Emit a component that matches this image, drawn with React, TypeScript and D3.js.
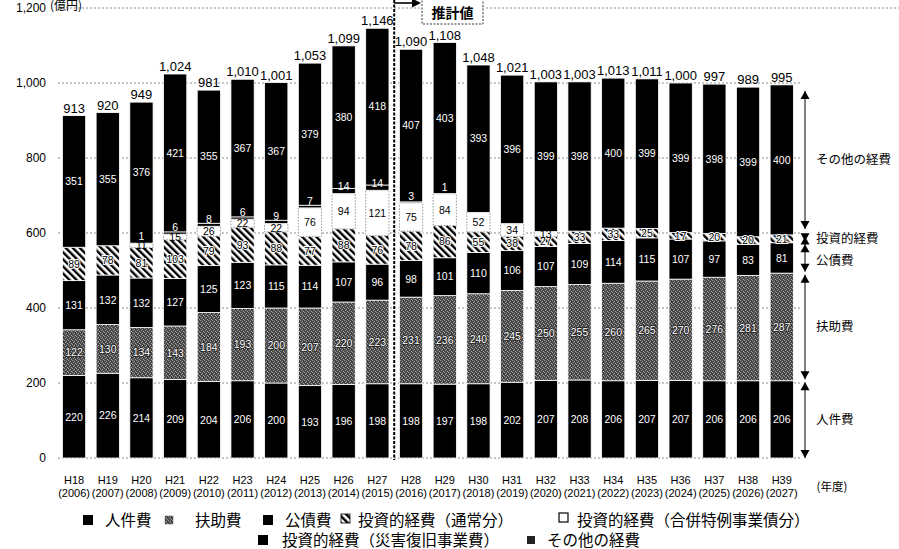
import React from "react";
import * as d3 from "d3";

const years = ["H18","H19","H20","H21","H22","H23","H24","H25","H26","H27","H28","H29","H30","H31","H32","H33","H34","H35","H36","H37","H38","H39"];
const westernYears = ["2006","2007","2008","2009","2010","2011","2012","2013","2014","2015","2016","2017","2018","2019","2020","2021","2022","2023","2024","2025","2026","2027"];
const personnel = [220,226,214,209,204,206,200,193,196,198,198,197,198,202,207,208,206,207,207,206,206,206];
const assistance = [122,130,134,143,184,193,200,207,220,223,231,236,240,245,250,255,260,265,270,276,281,287];
const debt = [131,132,132,127,125,123,115,114,107,96,98,101,110,106,107,109,114,115,107,97,83,81];
const investNormal = [89,78,81,103,79,93,88,77,88,76,78,86,55,38,27,33,33,25,17,20,20,21];
const investMerger = [0,0,11,15,26,22,22,76,94,121,75,84,52,34,13,0,0,0,0,0,0,0];
const investDisaster = [0,0,1,6,8,6,9,7,14,14,3,1,0,0,0,0,0,0,0,0,0,0];
const other = [351,355,376,421,355,367,367,379,380,418,407,403,393,396,399,398,400,399,399,398,399,400];
const totals = [913,920,949,1024,981,1010,1001,1053,1099,1146,1090,1108,1048,1021,1003,1003,1013,1011,1000,997,989,995];
const yTicks = [0,200,400,600,800,1000,1200];

const keys = ["personnel","assistance","debt","investNormal","investMerger","investDisaster","other"];
const legendRow1 = ["人件費","扶助費","公債費","投資的経費（通常分）","投資的経費（合併特例事業債分）"];
const legendRow2 = ["投資的経費（災害復旧事業費）","その他の経費"];
const sideLabels = ["人件費","扶助費","公債費","投資的経費","その他の経費"];

const W = 899, H = 549;
const NUM_FONT = "'Liberation Sans', Arial, sans-serif";
const JP_FONT = "'Noto Sans CJK JP', 'Noto Sans', sans-serif";

const rows = years.map((y, i) => ({
  year: y,
  personnel: personnel[i],
  assistance: assistance[i],
  debt: debt[i],
  investNormal: investNormal[i],
  investMerger: investMerger[i],
  investDisaster: investDisaster[i],
  other: other[i],
}));

const fills: Record<string, string> = {
  personnel: "#000",
  assistance: "url(#stipple)",
  debt: "#000",
  investNormal: "url(#hatch)",
  investMerger: "#fff",
  investDisaster: "#000",
  other: "#000",
};

export default function App() {
  const x = d3.scaleBand<string>().domain(years).range([57.2, 798.6]).paddingInner(0.31).paddingOuter(0.155);
  const y = d3.scaleLinear().domain([0, 1200]).range([458, 8]);
  const series = d3.stack<any>().keys(keys)(rows as any);
  const bw = x.bandwidth();

  const splitX = ((x("H27") as number) + bw + (x("H28") as number)) / 2;

  const last = series.map((s) => s[s.length - 1]);
  const annRanges = [
    [last[0][0], last[0][1]],
    [last[1][0], last[1][1]],
    [last[2][0], last[2][1]],
    [last[3][0], last[5][1]],
    [last[6][0], last[6][1]],
  ];
  const annX = 805;

  const arrowHead = (xc: number, yTip: number, dir: number) => {
    const h = 8, w = 4.5;
    return `M${xc},${yTip} L${xc - w},${yTip - dir * h} L${xc + w},${yTip - dir * h} Z`;
  };

  return (
    <svg width={W} height={H} style={{ position: "absolute", left: 0, top: 0, background: "#fff" }}>
      <defs>
        <pattern id="stipple" patternUnits="userSpaceOnUse" width="4" height="4">
          <rect width="4" height="4" fill="#4a4a4a" />
          <rect x="0" y="0" width="1" height="1" fill="#9a9a9a" />
          <rect x="2" y="1" width="1" height="1" fill="#b0b0b0" />
          <rect x="1" y="2" width="1" height="1" fill="#8a8a8a" />
          <rect x="3" y="3" width="1" height="1" fill="#a5a5a5" />
          <rect x="3" y="1" width="1" height="1" fill="#2a2a2a" />
        </pattern>
        <pattern id="hatch" patternUnits="userSpaceOnUse" width="5" height="5" patternTransform="rotate(-45)">
          <rect width="5" height="5" fill="#fff" />
          <line x1="1.2" y1="0" x2="1.2" y2="5" stroke="#000" strokeWidth="2.4" />
        </pattern>
      </defs>

      {yTicks.map((t) => (
        <line key={"g" + t} x1={58} x2={t === 1200 ? 899 : 800} y1={y(t)} y2={y(t)}
          stroke="#8a8a8a" strokeWidth={1} strokeDasharray="2,2" />
      ))}
      {yTicks.map((t) => (
        <text key={"yt" + t} x={46} y={y(t)} dy="0.35em" textAnchor="end" fontFamily={NUM_FONT} fontSize={12} fill="#000">
          {d3.format(",")(t)}
        </text>
      ))}
      <text x={50} y={10} fontFamily={JP_FONT} fontSize={12} fill="#000">(億円)</text>

      {series.map((s, si) => (
        <g key={keys[si]}>
          {s.map((d, i) => {
            const v = d[1] - d[0];
            if (v <= 0) return null;
            const x0 = x(years[i]) as number;
            const top = y(d[1]);
            const h = y(d[0]) - y(d[1]);
            const key = keys[si];
            return (
              <rect key={i} x={x0} y={top} width={bw} height={h} fill={fills[key]}
                stroke={key === "investMerger" ? "#777" : "#fff"}
                strokeWidth={0.8}
                strokeDasharray={key === "investMerger" ? "1.5,1.5" : undefined} />
            );
          })}
        </g>
      ))}

      {series.map((s, si) => (
        <g key={"l" + keys[si]}>
          {s.map((d, i) => {
            const v = d[1] - d[0];
            if (v <= 0) return null;
            const key = keys[si];
            const cx = (x(years[i]) as number) + bw / 2;
            let cy = (y(d[0]) + y(d[1])) / 2;
            if (key === "investDisaster") cy = y(d[0]) - 7;
            const whiteText = key === "personnel" || key === "debt" || key === "other" || key === "investDisaster" || key === "assistance";
            const halo = key === "investNormal";
            return (
              <text key={i} x={cx} y={cy} dy="0.36em" textAnchor="middle" fontFamily={NUM_FONT}
                fontSize={10.5} fill={whiteText ? "#fff" : "#000"}
                stroke={halo ? "#fff" : key === "assistance" ? "#222" : "none"}
                strokeWidth={halo ? 2 : key === "assistance" ? 1.5 : 0}
                style={{ paintOrder: "stroke" } as any}>
                {v}
              </text>
            );
          })}
        </g>
      ))}

      {totals.map((t, i) => (
        <text key={"t" + i} x={(x(years[i]) as number) + bw / 2} y={y(t) - 3} textAnchor="middle"
          fontFamily={NUM_FONT} fontSize={13} fill="#000">
          {d3.format(",")(t)}
        </text>
      ))}

      {years.map((yr, i) => (
        <g key={"x" + yr}>
          <text x={(x(yr) as number) + bw / 2} y={480} dy="0.35em" textAnchor="middle" fontFamily={NUM_FONT} fontSize={11} fill="#000">{yr}</text>
          <text x={(x(yr) as number) + bw / 2} y={493.5} dy="0.35em" textAnchor="middle" fontFamily={NUM_FONT} fontSize={11} fill="#000">({westernYears[i]})</text>
        </g>
      ))}
      <text x={832} y={487} dy="0.35em" textAnchor="middle" fontFamily={JP_FONT} fontSize={11.5} fill="#000">(年度)</text>

      <line x1={splitX} x2={splitX} y1={0} y2={460} stroke="#000" strokeWidth={2} strokeDasharray="3,1.5" />
      <line x1={splitX} x2={414} y1={3} y2={3} stroke="#000" strokeWidth={1.6} />
      <path d={`M421,3 L412,-1.5 L412,7.5 Z`} fill="#000" />
      <rect x={422} y={-4} width={61} height={28} fill="#fff" stroke="#333" strokeWidth={1} strokeDasharray="2,1.5" />
      <text x={452.5} y={13} dy="0.35em" textAnchor="middle" fontFamily={JP_FONT} fontSize={14} fontWeight="bold" fill="#000">推計値</text>

      {annRanges.map((r, i) => {
        const inset = i === 4 ? 6 : 1.5;
        const yTop = y(r[1]) + inset;
        const yBot = y(r[0]) - (i === 0 ? 0 : inset);
        return (
          <g key={"ann" + i}>
            <line x1={annX} x2={annX} y1={yTop} y2={yBot} stroke="#000" strokeWidth={1} />
            <path d={arrowHead(annX, yTop, -1)} fill="#000" />
            <path d={arrowHead(annX, yBot, 1)} fill="#000" />
            <text x={816} y={(y(r[0]) + y(r[1])) / 2 + (i === 2 ? 3 : 0)} dy="0.35em" fontFamily={JP_FONT} fontSize={12.5} fill="#000">
              {sideLabels[i]}
            </text>
          </g>
        );
      })}

      <g fontFamily={JP_FONT} fontSize={15.5} fill="#000">
        <rect x={83} y={515} width={10} height={10} fill="#000" />
        <text x={105} y={520} dy="0.36em">{legendRow1[0]}</text>
        <rect x={165} y={516} width={8} height={8} fill="url(#stipple)" stroke="#555" strokeWidth={0.5} />
        <text x={195} y={520} dy="0.36em">{legendRow1[1]}</text>
        <rect x={263} y={515} width={10} height={10} fill="#000" />
        <text x={285} y={520} dy="0.36em">{legendRow1[2]}</text>
        <rect x={341} y={514} width={9} height={9} fill="url(#hatch)" stroke="#000" strokeWidth={0.8} />
        <text x={358} y={520} dy="0.36em">{legendRow1[3]}</text>
        <rect x={559} y={513} width={9} height={9} fill="#fff" stroke="#000" strokeWidth={1.2} />
        <text x={577} y={520} dy="0.36em">{legendRow1[4]}</text>
        <rect x={258} y={535} width={10} height={10} fill="#000" />
        <text x={282} y={540} dy="0.36em">{legendRow2[0]}</text>
        <rect x={527} y={536} width={8} height={8} fill="#222" />
        <text x={547} y={540} dy="0.36em">{legendRow2[1]}</text>
      </g>
    </svg>
  );
}
